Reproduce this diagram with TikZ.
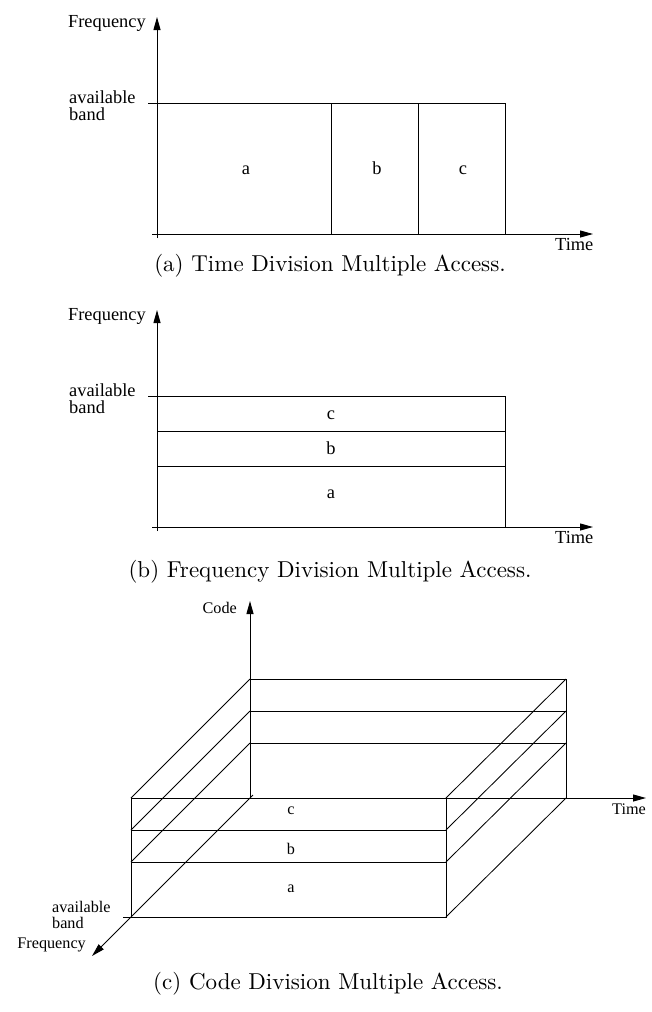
\documentclass[tikz,border=0pt]{standalone}
\usepackage{fontspec}
\usepackage{graphicx}
\newfontfamily\figfont{Liberation Serif}
\usetikzlibrary{arrows.meta}
\tikzset{
  axis/.style={line width=1pt, -{Triangle[length=13pt,width=7pt]}},
  edge/.style={line width=0.85pt},
  lbl/.style={font=\figfont\fontsize{18.4}{20}\selectfont, inner sep=0pt},
  lblc/.style={font=\figfont\fontsize{16.2}{18}\selectfont, inner sep=0pt},
  captext/.style={inner sep=0pt, anchor=base},
}
\begin{document}
\begin{tikzpicture}[x=1pt,y=-1pt]
\useasboundingbox (0,0) rectangle (652,1012);

% ---------- (a) TDMA ----------
\coordinate (a-top) at (157,17);
\coordinate (a-right) at (593,234);
\draw[edge] (157,103) rectangle (505,234);
\draw[edge] (331,103) -- (331,234);
\draw[edge] (418,103) -- (418,234);
\draw[axis] (152,234) -- (a-right);
\draw[axis] (157,238) -- (a-top);
\draw[edge] (148,103) -- (166,103);
\node[lbl, anchor=east] (a-freq) at (146,23) {Frequency};
\node[lbl, anchor=base west] (a-avail) at (69,103) {available};
\node[lbl, anchor=base west] (a-band) at (69,120) {band};
\node[lbl, anchor=base west] (a-time) at (555,250) {Time};
\node[lbl, anchor=base] (a-a) at (246,174) {a};
\node[lbl, anchor=base] (a-b) at (377,174) {b};
\node[lbl, anchor=base] (a-c) at (463,174) {c};
\node[captext] (cap-a) at (330,271) {\scalebox{2.3}{(a) Time Division Multiple Access.}};

% ---------- (b) FDMA ----------
\coordinate (b-top) at (157,310);
\coordinate (b-right) at (593,527);
\draw[edge] (157,396) rectangle (505,527);
\draw[edge] (157,431) -- (505,431);
\draw[edge] (157,466) -- (505,466);
\draw[axis] (152,527) -- (b-right);
\draw[axis] (157,531) -- (b-top);
\draw[edge] (148,396) -- (166,396);
\node[lbl, anchor=east] (b-freq) at (146,316) {Frequency};
\node[lbl, anchor=base west] (b-avail) at (69,396) {available};
\node[lbl, anchor=base west] (b-band) at (69,413) {band};
\node[lbl, anchor=base west] (b-time) at (555,543) {Time};
\node[lbl, anchor=base] (b-c) at (331,419) {c};
\node[lbl, anchor=base] (b-b) at (331,454) {b};
\node[lbl, anchor=base] (b-a) at (331,498) {a};
\node[captext] (cap-b) at (330,577) {\scalebox{2.3}{(b) Frequency Division Multiple Access.}};

% ---------- (c) CDMA ----------
\coordinate (c-o) at (250,798);
\coordinate (c-code) at (250,601);
\coordinate (c-time) at (646,798);
\coordinate (c-freq) at (92,956);
% back face
\draw[edge] (250,679) -- (566,679) -- (566,798);
\draw[edge] (250,711) -- (566,711);
\draw[edge] (250,743) -- (566,743);
% front face
\draw[edge] (131,798) rectangle (446,917);
\draw[edge] (131,830) -- (446,830);
\draw[edge] (131,862) -- (446,862);
% receding edges
\foreach \y in {798,830,862} {
  \draw[edge] (131,\y) -- (250,\y-119);
  \draw[edge] (446,\y) -- (566,\y-119);
}
\draw[edge] (446,917) -- (566,798);
% axes
\draw[axis] (c-o) -- (c-code);
\draw[axis] (c-o) -- (c-time);
\draw[axis] (253,795) -- (c-freq);
\draw[edge] (123,917) -- (139,917);
\node[lblc, anchor=east] (c-codelbl) at (237,608) {Code};
\node[lblc, anchor=base west] (c-timelbl) at (612,814) {Time};
\node[lblc, anchor=base east] (c-freqlbl) at (86,948) {Frequency};
\node[lblc, anchor=base west] (c-avail) at (52,912) {available};
\node[lblc, anchor=base west] (c-band) at (52,928) {band};
\node[lblc, anchor=base] (c-c) at (291,814) {c};
\node[lblc, anchor=base] (c-b) at (291,854) {b};
\node[lblc, anchor=base] (c-a) at (291,892) {a};
\node[captext] (cap-c) at (328,989) {\scalebox{2.3}{(c) Code Division Multiple Access.}};
\end{tikzpicture}
\end{document}
